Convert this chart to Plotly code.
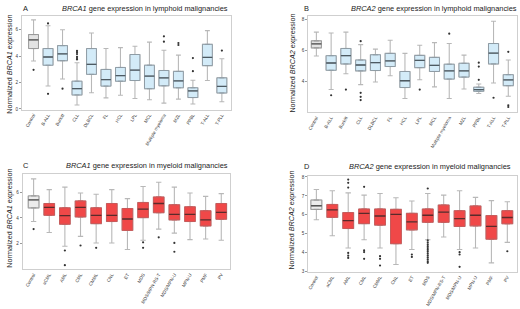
import plotly.graph_objects as go

W, H = 520, 309

# ---------------- Panel A: BRCA1 lymphoid ----------------
catA = ["Control", "B-ALL", "Burkitt", "CLL", "DLBCL", "FL", "HCL", "LPL", "MCL",
        "Multiple myeloma", "MZL", "PPBL", "T-ALL", "T-PLL"]
loA = [3.63, 1.73, 2.27, 0.30, 1.23, 0.84, 1.04, 0.79, 0.69, 0.44, 0.74, 0.37, 2.15, 0.54]
q1A = [4.57, 3.31, 3.65, 1.06, 2.62, 1.73, 2.10, 2.15, 1.53, 1.75, 1.60, 0.86, 3.28, 1.21]
mdA = [5.23, 3.93, 4.17, 1.53, 3.38, 2.22, 2.52, 2.94, 2.49, 2.35, 2.12, 1.36, 3.90, 1.70]
q3A = [5.63, 4.57, 4.79, 2.10, 4.57, 2.99, 3.14, 4.12, 3.31, 2.91, 2.84, 1.60, 4.89, 2.35]
hiA = [6.74, 6.30, 6.00, 3.50, 5.75, 4.57, 4.64, 4.74, 5.06, 4.44, 4.07, 2.17, 5.93, 3.80]
outA = [[2.96], [6.47, 1.14], [1.53], [3.75, 3.85, 3.95, 4.15, 4.30, 4.40], [], [], [], [], [],
        [5.50, 5.09], [4.99, 4.84], [3.85, 2.86], [], [4.42]]

# ---------------- Panel B: BRCA2 lymphoid ----------------
catB = catA
loB = [5.64, 3.47, 4.49, 3.79, 3.96, 4.36, 2.89, 4.10, 3.64, 2.89, 3.51, 3.21, 3.89, 3.04]
q1B = [6.17, 4.72, 5.13, 4.68, 4.70, 4.96, 3.60, 4.89, 4.64, 4.15, 4.28, 3.36, 5.13, 3.72]
mdB = [6.43, 5.19, 5.66, 5.06, 5.21, 5.32, 4.04, 5.36, 5.04, 4.68, 4.68, 3.47, 5.83, 4.09]
q3B = [6.62, 5.66, 6.13, 5.38, 5.72, 5.81, 4.64, 5.68, 5.55, 5.11, 5.17, 3.62, 6.45, 4.43]
hiB = [7.19, 7.13, 7.19, 6.38, 6.09, 6.66, 5.81, 6.34, 6.51, 6.45, 5.70, 3.83, 7.89, 5.38]
outB = [[], [3.10], [3.47], [6.60, 3.26, 3.00, 2.79], [], [], [], [3.47], [],
        [7.09], [], [5.21, 4.96, 4.10], [2.94], [5.91, 2.45, 2.34]]

# ---------------- Panel C: BRCA1 myeloid ----------------
catC = ["Control", "aCML", "AML", "CML", "CMML", "CNL", "ET", "MDS", "MDS/MPN-RS-T",
        "MDS/MPN-U", "MPN-U", "PMF", "PV"]
loC = [3.72, 2.87, 1.79, 2.56, 2.05, 2.05, 1.54, 2.26, 3.13, 2.82, 2.31, 2.36, 2.26]
q1C = [4.79, 4.21, 3.51, 4.08, 3.56, 3.72, 3.03, 4.03, 4.41, 3.85, 3.72, 3.38, 3.90]
mdC = [5.41, 4.82, 4.18, 4.82, 4.21, 4.21, 3.92, 4.69, 5.13, 4.28, 4.28, 3.85, 4.44]
q3C = [5.72, 5.13, 4.79, 5.33, 4.79, 5.13, 4.74, 5.21, 5.64, 5.03, 4.87, 4.56, 5.13]
hiC = [7.05, 6.21, 6.41, 5.95, 5.85, 6.21, 5.51, 6.46, 6.79, 6.41, 5.95, 5.69, 5.90]
outC = [[3.13], [], [1.46, 0.31], [1.85], [1.67], [], [], [2.10, 1.67], [2.49],
        [2.05, 1.36], [], [], []]

# ---------------- Panel D: BRCA2 myeloid ----------------
catD = catC
loD = [5.74, 4.90, 4.25, 4.69, 4.25, 3.38, 4.17, 4.69, 4.83, 4.17, 4.25, 3.47, 4.55]
q1D = [6.29, 5.87, 5.28, 5.54, 5.46, 4.48, 5.21, 5.61, 5.61, 5.39, 5.42, 4.72, 5.53]
mdD = [6.48, 6.26, 5.70, 6.08, 5.94, 6.03, 5.63, 5.98, 6.14, 5.80, 5.98, 5.39, 5.86]
q3D = [6.78, 6.55, 6.12, 6.31, 6.31, 6.29, 6.08, 6.31, 6.52, 6.22, 6.47, 5.96, 6.22]
hiD = [7.34, 7.27, 7.16, 7.04, 7.13, 6.90, 6.73, 7.13, 7.04, 7.27, 6.92, 6.75, 6.69]
outD = [[], [], [7.86, 7.69, 7.44, 3.99, 3.85, 3.73], [7.48, 4.13, 4.04, 3.68],
        [3.82, 3.68, 3.33], [], [3.91, 3.78],
        [7.39, 4.66, 4.55, 4.45, 4.35, 4.25, 4.15, 4.05, 3.95, 3.85, 3.75, 3.65, 3.55, 3.47],
        [], [4.03, 3.91, 3.26], [], [], [4.08]]

panels = [
    dict(cat=catA, lo=loA, q1=q1A, md=mdA, q3=q3A, hi=hiA, out=outA,
         dom_x=[21 / W, 230 / W], dom_y=[1 - 110 / H, 1 - 15 / H],
         xr=[-0.8, 13.6], yr=[-0.05, 7.05], tv=[0, 2, 4, 6],
         fill="#d3ebf8", line="#8f9ca5", med="#4d5a62"),
    dict(cat=catB, lo=loB, q1=q1B, md=mdB, q3=q3B, hi=hiB, out=outB,
         dom_x=[307.7 / W, 516.7 / W], dom_y=[1 - 112.7 / H, 1 - 15.7 / H],
         xr=[-0.56, 13.57], yr=[2.0, 8.2], tv=[4, 6, 8],
         fill="#d3ebf8", line="#8f9ca5", med="#4d5a62"),
    dict(cat=catC, lo=loC, q1=q1C, md=mdC, q3=q3C, hi=hiC, out=outC,
         dom_x=[21.7 / W, 229 / W], dom_y=[1 - 271.7 / H, 1 - 175.7 / H],
         xr=[-0.7, 12.53], yr=[0, 7.4], tv=[2, 4, 6],
         fill="#f04848", line="#c85a5a", med="#5a2a2a"),
    dict(cat=catD, lo=loD, q1=q1D, md=mdD, q3=q3D, hi=hiD, out=outD,
         dom_x=[307.7 / W, 516.7 / W], dom_y=[1 - 274.3 / H, 1 - 177.3 / H],
         xr=[-0.52, 12.59], yr=[3, 8.05], tv=[3, 4, 5, 6, 7, 8],
         fill="#f04848", line="#c85a5a", med="#5a2a2a"),
]

WHISKER = "#b8b8b8"

fig = go.Figure()
layout = dict(width=W, height=H, margin=dict(l=0, r=0, t=0, b=0),
              paper_bgcolor="white", plot_bgcolor="white", showlegend=False,
              boxmode="overlay", hovermode=False)

for i, p in enumerate(panels):
    n = "" if i == 0 else str(i + 1)
    xa, ya = "x" + n, "y" + n
    cats = p["cat"]
    ctrl_fill = "#e3e3e3" if i < 2 else "#ececec"
    for j, c in enumerate(cats):
        fill = ctrl_fill if j == 0 else p["fill"]
        lcol = "#9a9a9a" if j == 0 else p["line"]
        mcol = "#555555" if j == 0 else p["med"]
        q1, md, q3 = p["q1"][j], p["md"][j], p["q3"][j]
        # whiskers (light gray)
        fig.add_trace(go.Box(
            x=[c], q1=[q1], median=[md], q3=[q3],
            lowerfence=[p["lo"][j]], upperfence=[p["hi"][j]],
            fillcolor="rgba(0,0,0,0)", line=dict(color=WHISKER, width=1.1), width=0.68,
            boxpoints=False, xaxis=xa, yaxis=ya, hoverinfo="skip"))
        # box body
        fig.add_trace(go.Box(
            x=[c], q1=[q1], median=[md], q3=[q3], lowerfence=[q1], upperfence=[q3],
            fillcolor=fill, line=dict(color=lcol, width=1), width=0.68,
            boxpoints=False, xaxis=xa, yaxis=ya, hoverinfo="skip"))
        # median line drawn darker
        fig.add_trace(go.Box(
            x=[c], q1=[md], median=[md], q3=[md], lowerfence=[md], upperfence=[md],
            fillcolor="rgba(0,0,0,0)", line=dict(color=mcol, width=1.3), width=0.68,
            whiskerwidth=0, boxpoints=False, xaxis=xa, yaxis=ya, hoverinfo="skip"))
    ox, oy = [], []
    for j, c in enumerate(cats):
        for v in p["out"][j]:
            ox.append(c)
            oy.append(v)
    fig.add_trace(go.Scatter(x=ox, y=oy, mode="markers",
                             marker=dict(size=2.2, color="#333333"),
                             xaxis=xa, yaxis=ya, hoverinfo="skip"))
    layout["xaxis" + n] = dict(domain=p["dom_x"], anchor=ya, type="category",
                               categoryorder="array", categoryarray=cats,
                               range=p["xr"], showgrid=False, zeroline=False,
                               showline=True, mirror=True, linecolor="#cfcfcf", linewidth=1,
                               ticks="", tickangle=-60, fixedrange=True,
                               tickfont=dict(family="Liberation Sans, Arial", size=4.6,
                                             color="#3a3a3a"))
    layout["yaxis" + n] = dict(domain=p["dom_y"], anchor=xa, range=p["yr"],
                               tickvals=p["tv"], showgrid=False, zeroline=False,
                               showline=True, mirror=True, linecolor="#cfcfcf", linewidth=1,
                               ticks="outside", ticklen=2, tickcolor="#999999", fixedrange=True,
                               tickfont=dict(family="Liberation Sans, Arial", size=4.6,
                                             color="#3a3a3a"))

fnt = "Liberation Sans, Arial"
ann = []
def add_text(txt, x, y, xanchor="left", size=7.4, angle=0):
    ann.append(dict(text=txt, x=x / W, y=1 - y / H, xref="paper", yref="paper",
                    xanchor=xanchor, yanchor="middle", showarrow=False,
                    textangle=angle, font=dict(family=fnt, size=size, color="#1a1a1a")))

add_text("A", 20, 7.5)
add_text("<i>BRCA1</i> gene expression in lymphoid malignancies", 229.5, 7.5, "right")
add_text("B", 301.5, 7.5)
add_text("<i>BRCA2</i> gene expression in lymphoid malignancies", 518.5, 7.5, "right")
add_text("C", 20, 167)
add_text("<i>BRCA1</i> gene expression in myeloid malignancies", 229.5, 167, "right")
add_text("D", 301.5, 168)
add_text("<i>BRCA2</i> gene expression in myeloid malignancies", 513, 168, "right")

add_text("Normalized <i>BRCA1</i> expression", 8.5, 64, "center", 7.2, -90)
add_text("Normalized <i>BRCA2</i> expression", 292, 63, "center", 7.2, -90)
add_text("Normalized <i>BRCA1</i> expression", 8.5, 220, "center", 7.2, -90)
add_text("Normalized <i>BRCA2</i> expression", 291, 222, "center", 7.2, -90)

layout["annotations"] = ann
fig.update_layout(**layout)
fig.write_html("out.html", config={"displayModeBar": False, "staticPlot": True},
               post_script="document.body.style.margin='0';document.body.style.padding='0';")
